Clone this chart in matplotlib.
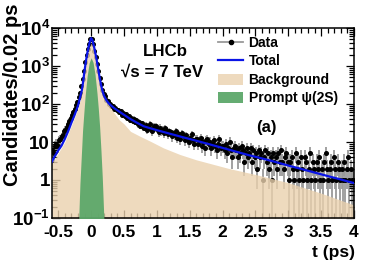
import numpy as np
import matplotlib
matplotlib.use("Agg")
import matplotlib.pyplot as plt
from matplotlib.lines import Line2D
from matplotlib.patches import Patch
from matplotlib.ticker import FixedLocator, MultipleLocator, LogLocator, NullFormatter

plt.rcParams['font.family'] = ['Liberation Sans', 'DejaVu Sans']
plt.rcParams['font.weight'] = 'bold'
plt.rcParams['mathtext.fontset'] = 'custom'
plt.rcParams['mathtext.rm'] = 'Liberation Sans:bold'
plt.rcParams['mathtext.bf'] = 'Liberation Sans:bold'

# ---------------- data ----------------
# data counts per 0.02 ps bin, bin centres -0.59 ... 3.99
counts_neg = [6, 5, 8, 9, 8, 11, 12, 14, 15, 19,
              21, 25, 30, 36, 44, 52, 62, 75, 92, 115,
              150, 200, 290, 450, 750, 1250, 1900, 2800, 3900, 5000]
counts_peak = [5200, 3800, 2500, 1700, 1150, 750, 480, 330, 240, 185,
               162, 130, 121, 101, 98, 86, 88, 76, 79, 69]
counts_mid = [70, 62, 66, 52, 58, 47, 54, 44, 49, 38,
              43, 36, 41, 33, 37, 29, 34, 27, 31, 25]
counts_tail = [24, 28, 21, 25, 30, 22, 19, 26, 23, 27,
               22, 18, 24, 19, 21, 17, 23, 20, 16, 19,
               18, 14, 17, 15, 19, 13, 16, 12, 15, 17,
               14, 11, 15, 12, 10, 13, 16, 11, 9, 12,
               12, 9, 11, 13, 8, 10, 7, 11, 12, 9,
               10, 7, 9, 11, 8, 6, 9, 12, 7, 8,
               8, 6, 9, 5, 7, 10, 6, 4, 7, 8,
               6, 4, 7, 5, 8, 6, 3, 5, 7, 4,
               5, 7, 3, 6, 4, 5, 2, 6, 4, 5,
               1, 4, 6, 3, 5, 2, 4, 1, 5, 3,
               4, 2, 5, 3, 6, 3, 2, 4, 5, 3,
               1, 3, 4, 2, 1, 5, 2, 3, 1, 4,
               2, 1, 4, 3, 1, 2, 5, 1, 3, 2,
               1, 3, 2, 4, 1, 2, 1, 3, 5, 2,
               1, 2, 3, 1, 4, 2, 1, 3, 2, 1,
               2, 1, 3, 1, 2, 4, 1, 2, 1, 1]
data_counts = np.array(counts_neg + counts_peak + counts_mid + counts_tail, dtype=float)
data_t = np.linspace(-0.59, 3.99, len(data_counts))

# total fit curve
total_t = [-0.6, -0.55, -0.5, -0.45, -0.4, -0.35, -0.3, -0.25, -0.2, -0.17, -0.14, -0.12,
           -0.1, -0.08, -0.06, -0.04, -0.02, 0.0, 0.02, 0.04, 0.06, 0.08, 0.1, 0.12, 0.14,
           0.16, 0.18, 0.2, 0.23, 0.26, 0.3, 0.35, 0.4, 0.5, 0.6, 0.7, 0.8, 0.9, 1.0, 1.2,
           1.4, 1.6, 1.8, 2.0, 2.2, 2.4, 2.6, 2.8, 3.0, 3.2, 3.4, 3.6, 3.8, 4.0]
total_y = [3.0, 4.3, 6.0, 8.0, 12, 19, 32, 52, 90, 145, 234, 400,
           750, 1300, 2100, 3100, 4300, 5400, 4800, 3500, 2400, 1600, 1000, 620, 400,
           270, 200, 160, 128, 108, 92, 78, 68, 52, 40, 32, 26, 23, 20.5, 16.5,
           13.3, 10.8, 8.7, 7.0, 5.6, 4.5, 3.7, 3.0, 2.4, 1.95, 1.57, 1.27, 1.03, 0.83]

# background component
bkg_t = [-0.6, -0.5, -0.4, -0.3, -0.2, -0.14, -0.1, -0.06, -0.03, 0.0, 0.03, 0.06,
         0.1, 0.14, 0.17, 0.2, 0.25, 0.29, 0.35, 0.43, 0.5, 0.6, 0.75, 0.9, 1.1,
         1.35, 1.6, 2.1, 2.5, 3.0, 3.5, 4.0]
bkg_y = [2.6, 5.1, 10, 27, 76, 200, 640, 1800, 3000, 4000, 3200, 1800,
         800, 420, 250, 170, 110, 83, 58, 38, 30, 19, 14, 10.5, 7,
         4.7, 3.4, 2.0, 1.4, 0.85, 0.45, 0.22]

# prompt psi(2S) component
prompt_t = [-0.21, -0.19, -0.17, -0.15, -0.13, -0.11, -0.09, -0.06, -0.03, 0.0,
            0.03, 0.06, 0.09, 0.11, 0.13, 0.15, 0.17, 0.19, 0.21]
prompt_y = [0.02, 0.08, 0.8, 4, 20, 60, 170, 550, 1200, 1650,
            1250, 600, 190, 75, 25, 6, 1.2, 0.15, 0.03]

# ---------------- figure ----------------
W, H = 374, 265
fig = plt.figure(figsize=(W / 100, H / 100), dpi=100)
L, R, T, B = 52, 354, 28, 218
ax = fig.add_axes([L / W, 1 - B / H, (R - L) / W, (B - T) / H])

tan = '#EAD1AE'
green = '#5DA86A'
blue = '#0A14E6'

lo = np.maximum(data_counts - np.sqrt(data_counts), 1e-3)
hi = data_counts + np.sqrt(data_counts)
ax.errorbar(data_t, data_counts, yerr=[data_counts - lo, hi - data_counts], fmt='o',
            ms=2.6, mfc='k', mec='k', ecolor='#9a9a9a', elinewidth=1.3, capsize=0, zorder=1)

ax.fill_between(bkg_t, 1e-3, bkg_y, color=tan, alpha=0.8, lw=0, zorder=2)
ax.fill_between(prompt_t, 1e-3, prompt_y, color=green, alpha=0.95, lw=0, zorder=3)
ax.plot(total_t, total_y, color=blue, lw=1.6, zorder=4)

ax.set_yscale('log')
ax.set_xlim(-0.595, 4.0)
ax.set_ylim(0.1, 1e4)

ax.yaxis.set_major_locator(FixedLocator([0.1, 1, 10, 100, 1000, 10000]))
ax.set_yticklabels([r'$\mathbf{10^{-1}}$', '1', '10', r'$\mathbf{10^{2}}$',
                    r'$\mathbf{10^{3}}$', r'$\mathbf{10^{4}}$'])
ax.yaxis.set_minor_locator(LogLocator(base=10, subs=np.arange(2, 10), numticks=20))
ax.yaxis.set_minor_formatter(NullFormatter())
ax.xaxis.set_major_locator(MultipleLocator(0.5))
ax.xaxis.set_minor_locator(MultipleLocator(0.1))
ax.set_xticks([-0.5, 0, 0.5, 1, 1.5, 2, 2.5, 3, 3.5, 4])
ax.set_xticklabels(['-0.5', '0', '0.5', '1', '1.5', '2', '2.5', '3', '3.5', '4'])

ax.tick_params(which='both', direction='in', top=True, right=True, width=0.9)
ax.tick_params(which='major', length=6)
ax.tick_params(which='minor', length=3.5)
ax.tick_params(axis='x', which='major', labelsize=12.5, pad=5)
ax.tick_params(axis='y', which='major', labelsize=13.5, pad=1.5)
for s in ax.spines.values():
    s.set_linewidth(1.1)

fig.text(13 / W, 1 - 3 / H, 'Candidates/0.02 ps', rotation=90, ha='center', va='top',
         fontsize=14.5, fontweight='bold')
fig.text(355 / W, 1 - 252 / H, 't (ps)', ha='right', va='center',
         fontsize=12.5, fontweight='bold')

ax.text(0.374, 0.874, 'LHCb', transform=ax.transAxes, ha='center', va='center',
        fontsize=12.2, fontweight='bold')
ax.text(0.364, 0.768, '\u221as = 7 TeV', transform=ax.transAxes, ha='center', va='center',
        fontsize=12.2, fontweight='bold')
ax.text(0.709, 0.474, '(a)', transform=ax.transAxes, ha='center', va='center',
        fontsize=12, fontweight='bold')

handles = [Line2D([], [], color='#9a9a9a', lw=1.3, marker='o', ms=3, mfc='k', mec='k'),
           Line2D([], [], color=blue, lw=1.6),
           Patch(facecolor=tan, alpha=0.8, edgecolor='none'),
           Patch(facecolor=green, alpha=0.95, edgecolor='none')]
labels = ['Data', 'Total', 'Background', 'Prompt \u03c8(2S)']
ax.legend(handles, labels, loc='upper left', bbox_to_anchor=((218 - L) / (R - L), (B - 36) / (B - T)),
          frameon=False, borderpad=0, borderaxespad=0,
          prop={'family': ['Liberation Sans', 'DejaVu Sans'], 'weight': 'bold', 'size': 10},
          handlelength=1.8, handleheight=0.85, labelspacing=0.32, handletextpad=0.4)

fig.savefig('out.png', dpi=100)
